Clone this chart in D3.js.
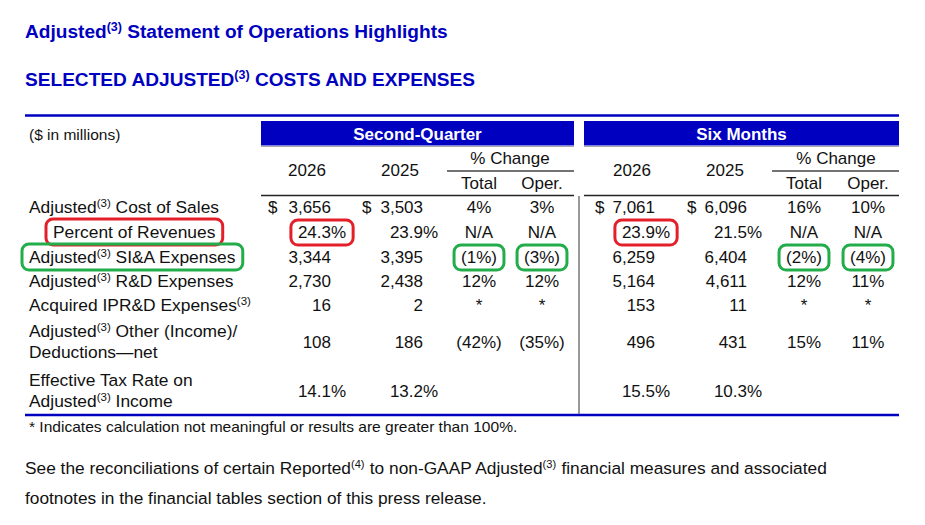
<!DOCTYPE html>
<html>
<head>
<meta charset="utf-8">
<script src="https://cdn.jsdelivr.net/npm/d3@7"></script>
<style>
  html, body { margin: 0; padding: 0; background: #fff; }
  svg { display: block; }
  text { font-family: "Liberation Sans", Arial, sans-serif; fill: #111; }
  .run { white-space: pre; }
</style>
</head>
<body>
<div id="chart"></div>
<script>
// ── Data ─────────────────────────────────────────────────────
// "^3" marks a superscript footnote reference
const rowKeys = ['cos', 'pct', 'sia', 'rd', 'ipr', 'other', 'tax'];
const rowLabels = [
  ['Adjusted^3 Cost of Sales'],
  ['Percent of Revenues'],
  ['Adjusted^3 SI&A Expenses'],
  ['Adjusted^3 R&D Expenses'],
  ['Acquired IPR&D Expenses^3'],
  ['Adjusted^3 Other (Income)/', 'Deductions\u2014net'],
  ['Effective Tax Rate on', 'Adjusted^3 Income']
];

const q2_2026  = ['3,656', '24.3%', '3,344', '2,730', '16', '108', '14.1%'];
const q2_2025  = ['3,503', '23.9%', '3,395', '2,438', '2', '186', '13.2%'];
const q2_total = ['4%', 'N/A', '(1%)', '12%', '*', '(42%)', ''];
const q2_oper  = ['3%', 'N/A', '(3%)', '12%', '*', '(35%)', ''];
const h1_2026  = ['7,061', '23.9%', '6,259', '5,164', '153', '496', '15.5%'];
const h1_2025  = ['6,096', '21.5%', '6,404', '4,611', '11', '431', '10.3%'];
const h1_total = ['16%', 'N/A', '(2%)', '12%', '*', '15%', ''];
const h1_oper  = ['10%', 'N/A', '(4%)', '11%', '*', '11%', ''];

const periods = ['Second-Quarter', 'Six Months'];
const yearHeads = ['2026', '2025'];
const changeHeads = ['Total', 'Oper.'];

const footNote = '* Indicates calculation not meaningful or results are greater than 100%.';
const footLines = [
  'See the reconciliations of certain Reported^4 to non-GAAP Adjusted^3 financial measures and associated',
  'footnotes in the financial tables section of this press release.'
];

// highlighted cells: [row, column] (column 'label' = row label)
const redMarks = [['pct', 'label'], ['pct', 'q2_2026'], ['pct', 'h1_2026']];
const greenMarks = [['sia', 'label'], ['sia', 'q2_total'], ['sia', 'q2_oper'],
                    ['sia', 'h1_total'], ['sia', 'h1_oper']];

const colData = {
  q2_2026, q2_2025, q2_total, q2_oper, h1_2026, h1_2025, h1_total, h1_oper
};
const colKeys = Object.keys(colData);

// ── Layout ───────────────────────────────────────────────────
const W = 925, H = 525;
const BLUE = '#0000c0';
const FS = 17;

const x = d3.scaleOrdinal()
  .domain(colKeys)
  .range([331, 423, 479, 542, 655, 747, 804, 868]);
const numericCols = new Set(['q2_2026', 'q2_2025', 'h1_2026', 'h1_2025']);
const dollarX = { q2_2026: 268, q2_2025: 362, h1_2026: 595, h1_2025: 687 };

const y = d3.scaleOrdinal().domain(rowKeys).range([213, 238, 263, 287, 311, 348, 397]);
const labelX = d3.scaleOrdinal().domain(rowKeys).range([29, 53, 29, 29, 29, 29, 29]);

const blocks = [
  { name: periods[0], x0: 261, x1: 574, years: [307, 400], change: 510, cols: ['q2_total', 'q2_oper'] },
  { name: periods[1], x0: 584, x1: 899, years: [632, 725], change: 836, cols: ['h1_total', 'h1_oper'] }
];

const svg = d3.select('#chart').append('svg')
  .attr('width', W).attr('height', H)
  .attr('viewBox', `0 0 ${W} ${H}`);

// text with ^n superscripts
function richText(sel, str, supSize, supRise) {
  const parts = str.split(/(\^\d)/).filter(s => s !== '');
  let raised = false;
  parts.forEach(p => {
    if (p.startsWith('^')) {
      sel.append('tspan').attr('font-size', supSize).attr('dy', -supRise)
        .text(`(${p.slice(1)})`);
      raised = true;
    } else {
      sel.append('tspan').attr('dy', raised ? supRise : 0).text(p);
      raised = false;
    }
  });
  return sel;
}

// same, but one text element per run, laid end to end and scaled to a width
function runText(str, x0, by, fs, width) {
  const parts = str.split(/(\^\d)/).filter(s => s !== '');
  const g = svg.append('g');
  const draw = size => {
    g.selectAll('*').remove();
    let cx = x0;
    parts.forEach(p => {
      const sup = p.startsWith('^');
      const t = g.append('text').attr('class', 'run')
        .attr('x', cx).attr('y', sup ? by - size * 0.36 : by)
        .attr('font-size', sup ? size * 0.64 : size)
        .text(sup ? `(${p.slice(1)})` : p);
      cx += t.node().getComputedTextLength() + (sup ? 0.5 : 0);
    });
    return cx - x0;
  };
  const natural = draw(fs);
  if (width) draw(fs * width / natural);
}

// ── Titles ───────────────────────────────────────────────────
[['Adjusted^3 Statement of Operations Highlights', 38],
 ['SELECTED ADJUSTED^3 COSTS AND EXPENSES', 86]].forEach(([t, by]) => {
  const el = svg.append('text').attr('x', 25).attr('y', by)
    .attr('font-size', 19.1).attr('font-weight', 'bold').style('fill', BLUE);
  richText(el, t, 12.5, 7);
});

// ── Table frame ──────────────────────────────────────────────
svg.append('line').attr('x1', 25).attr('x2', 899).attr('y1', 115.5).attr('y2', 115.5)
  .attr('stroke', BLUE).attr('stroke-width', 2.5);
svg.append('line').attr('x1', 25).attr('x2', 899).attr('y1', 415).attr('y2', 415)
  .attr('stroke', BLUE).attr('stroke-width', 2.5);

svg.append('text').attr('x', 29).attr('y', 140).attr('font-size', 15.5).text('($ in millions)');

blocks.forEach(b => {
  svg.append('rect').attr('x', b.x0).attr('y', 121).attr('width', b.x1 - b.x0).attr('height', 24.5)
    .attr('fill', BLUE);
  svg.append('line').attr('x1', b.x0).attr('x2', b.x1).attr('y1', 146.5).attr('y2', 146.5)
    .attr('stroke', '#aaa').attr('stroke-width', 1);
  svg.append('text').attr('x', (b.x0 + b.x1) / 2).attr('y', 139.5)
    .attr('text-anchor', 'middle').attr('font-size', 17).attr('font-weight', 'bold')
    .style('fill', '#fff').text(b.name);

  b.years.forEach((cx, i) => {
    svg.append('text').attr('x', cx).attr('y', 176).attr('text-anchor', 'middle')
      .attr('font-size', FS).text(yearHeads[i]);
  });
  svg.append('text').attr('x', b.change).attr('y', 164).attr('text-anchor', 'middle')
    .attr('font-size', FS).text('% Change');
  svg.append('line').attr('x1', b.x1 - 127).attr('x2', b.x1).attr('y1', 171).attr('y2', 171)
    .attr('stroke', '#444').attr('stroke-width', 1.5);
  b.cols.forEach((c, i) => {
    svg.append('text').attr('x', x(c)).attr('y', 189).attr('text-anchor', 'middle')
      .attr('font-size', FS).text(changeHeads[i]);
  });
  svg.append('line').attr('x1', b.x0).attr('x2', b.x1).attr('y1', 195.5).attr('y2', 195.5)
    .attr('stroke', '#222').attr('stroke-width', 1.5);
});

svg.append('line').attr('x1', 579).attr('x2', 579).attr('y1', 196).attr('y2', 414)
  .attr('stroke', '#777').attr('stroke-width', 1.5);

// ── Row labels ───────────────────────────────────────────────
const cellNodes = {};
rowKeys.forEach((k, i) => {
  const lines = rowLabels[i];
  const el = svg.append('text').attr('x', labelX(k)).attr('font-size', 17.4);
  lines.forEach((ln, j) => {
    const by = lines.length === 1 ? y(k) : y(k) - 11 + j * 21;
    const t = el.append('tspan').attr('x', labelX(k)).attr('y', by);
    richText(t, ln, 11.5, 6);
  });
  cellNodes[`${k}|label`] = el.node();
});

// ── Values ───────────────────────────────────────────────────
colKeys.forEach(c => {
  colData[c].forEach((v, i) => {
    if (!v) return;
    const k = rowKeys[i];
    const el = svg.append('text').attr('y', y(k)).attr('font-size', FS);
    if (numericCols.has(c)) {
      // numbers right-aligned, a trailing % hangs past the column edge
      const isPct = v.endsWith('%');
      el.attr('x', x(c)).attr('text-anchor', 'end').text(isPct ? v.slice(0, -1) : v);
      if (isPct) {
        const pct = svg.append('text').attr('x', x(c)).attr('y', y(k))
          .attr('font-size', FS).text('%');
        const g = svg.append('g');
        g.node().appendChild(el.node());
        g.node().appendChild(pct.node());
        cellNodes[`${k}|${c}`] = g.node();
      } else {
        cellNodes[`${k}|${c}`] = el.node();
      }
      if (i === 0) {
        svg.append('text').attr('x', dollarX[c]).attr('y', y(k)).attr('font-size', FS).text('$');
      }
    } else {
      el.attr('x', x(c)).attr('text-anchor', 'middle').text(v);
      cellNodes[`${k}|${c}`] = el.node();
    }
  });
});

// ── Hand-drawn style highlight boxes ─────────────────────────
function mark(list, color) {
  list.forEach(([r, c]) => {
    const bb = cellNodes[`${r}|${c}`].getBBox();
    svg.append('rect')
      .attr('x', bb.x - 7).attr('y', bb.y - 3)
      .attr('width', bb.width + 14).attr('height', bb.height + 6)
      .attr('rx', 7).attr('ry', 7)
      .attr('fill', 'none').attr('stroke', color).attr('stroke-width', 3);
  });
}
mark(redMarks, '#e3202a');
mark(greenMarks, '#22ad4a');

// ── Footnotes ────────────────────────────────────────────────
runText(footNote, 29, 432, 15, 489);
runText(footLines[0], 25, 474, 17.5, 802);
runText(footLines[1], 25, 504, 17.5, 462);
</script>
</body>
</html>
